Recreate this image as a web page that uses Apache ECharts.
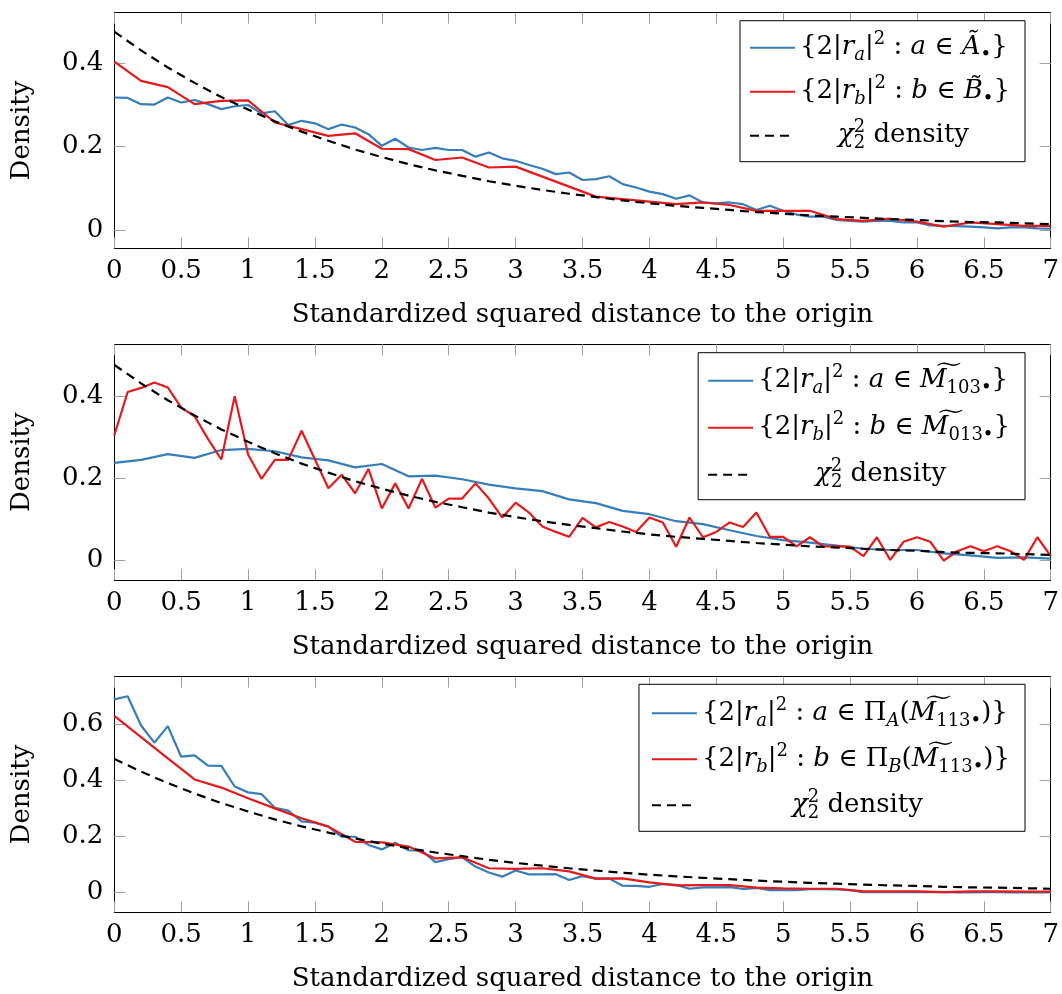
<!DOCTYPE html>
<html>
<head>
<meta charset="utf-8">
<script src="https://cdn.jsdelivr.net/npm/echarts@6/dist/echarts.min.js"></script>
<style>
html,body{margin:0;padding:0;background:#fff;}
#c{width:1062px;height:994px;}
</style>
</head>
<body>
<div id="c"></div>
<script>
// ---------- data ----------
const X_FINE = [0,0.1,0.2,0.3,0.4,0.5,0.6,0.7,0.8,0.9,1,1.1,1.2,1.3,1.4,1.5,1.6,1.7,1.8,1.9,2,2.1,2.2,2.3,2.4,2.5,2.6,2.7,2.8,2.9,3,3.1,3.2,3.3,3.4,3.5,3.6,3.7,3.8,3.9,4,4.1,4.2,4.3,4.4,4.5,4.6,4.7,4.8,4.9,5,5.1,5.2,5.3,5.4,5.5,5.6,5.7,5.8,5.9,6,6.1,6.2,6.3,6.4,6.5,6.6,6.7,6.8,6.9,7];
const X_COARSE = [0,0.2,0.4,0.6,0.8,1,1.2,1.4,1.6,1.8,2,2.2,2.4,2.6,2.8,3,3.2,3.4,3.6,3.8,4,4.2,4.4,4.6,4.8,5,5.2,5.4,5.6,5.8,6,6.2,6.4,6.6,6.8,7];

const X_TICK_STEP = 0.5;
const Y_TICKS_12 = [0, 0.2, 0.4];
const Y_TICKS_3 = [0, 0.2, 0.4, 0.6];

// chi-squared(2) density curve
const CHI2 = [0.476,0.431,0.390,0.353,0.319,0.289,0.261,0.236,0.214,0.193,0.175,0.158,0.143,0.130,0.117,0.106,0.096,0.087,0.079,0.071,0.064,0.058,0.053,0.048,0.043,0.039,0.035,0.032,0.029,0.026,0.024,0.021,0.019,0.018,0.016,0.014];

// panel 1
const P1_A = [0.318,0.317,0.302,0.301,0.318,0.306,0.312,0.302,0.290,0.297,
  0.300,0.280,0.285,0.252,0.262,0.256,0.242,0.253,0.246,0.230,
  0.202,0.219,0.198,0.192,0.197,0.192,0.192,0.176,0.186,0.172,
  0.166,0.156,0.147,0.134,0.138,0.120,0.122,0.129,0.110,0.102,
  0.092,0.086,0.075,0.083,0.066,0.064,0.066,0.062,0.048,0.058,
  0.046,0.037,0.032,0.032,0.024,0.022,0.020,0.022,0.022,0.018,
  0.018,0.011,0.010,0.009,0.008,0.006,0.004,0.006,0.006,0.004,0.003];
const P1_B = [0.404,0.358,0.343,0.302,0.310,0.311,0.258,0.242,0.226,0.232,
  0.195,0.194,0.168,0.174,0.150,0.152,0.128,0.104,0.080,0.074,
  0.068,0.062,0.066,0.060,0.046,0.046,0.046,0.026,0.022,0.027,
  0.020,0.008,0.018,0.014,0.010,0.010];

// panel 2
const P2_A = [0.238,0.245,0.259,0.250,0.269,0.272,0.266,0.251,0.244,0.227,
  0.235,0.205,0.207,0.198,0.185,0.176,0.169,0.149,0.140,0.121,
  0.113,0.096,0.089,0.074,0.060,0.050,0.044,0.037,0.029,0.026,
  0.026,0.018,0.013,0.007,0.008,0.005];
const P2_B = [0.305,0.410,0.420,0.433,0.421,0.372,0.351,0.296,0.246,0.400,
  0.258,0.199,0.245,0.245,0.316,0.246,0.176,0.209,0.164,0.223,
  0.127,0.188,0.127,0.199,0.129,0.151,0.151,0.188,0.151,0.105,
  0.141,0.117,0.083,0.070,0.058,0.104,0.081,0.094,0.083,0.070,
  0.105,0.093,0.034,0.105,0.057,0.070,0.093,0.082,0.117,0.058,
  0.058,0.035,0.057,0.035,0.035,0.034,0.011,0.057,0.002,0.046,
  0.057,0.046,0.000,0.023,0.035,0.023,0.035,0.023,0.002,0.057,0.011];

// panel 3
const P3_A = [0.688,0.699,0.595,0.534,0.593,0.484,0.489,0.452,0.451,0.378,
  0.357,0.351,0.302,0.292,0.254,0.249,0.235,0.199,0.199,0.170,
  0.154,0.178,0.151,0.149,0.109,0.119,0.126,0.093,0.072,0.057,
  0.079,0.065,0.065,0.066,0.045,0.059,0.050,0.050,0.025,0.024,
  0.021,0.031,0.028,0.014,0.019,0.019,0.020,0.013,0.017,0.009,
  0.009,0.009,0.013,0.013,0.012,0.009,0.002,0.002,0.002,0.002,
  0.003,0.002,0.002,0.001,0.001,0.002,0.002,0.001,0.001,0.001,0.001];
const P3_B = [0.629,0.554,0.478,0.403,0.374,0.336,0.300,0.265,0.235,0.181,
  0.179,0.164,0.122,0.126,0.087,0.085,0.087,0.076,0.050,0.051,
  0.037,0.026,0.027,0.027,0.018,0.015,0.014,0.014,0.005,0.005,
  0.005,0.002,0.005,0.005,0.004,0.004];

const X_NAME = 'Standardized squared distance to the origin';
const Y_NAME = 'Density';

// ---------- style ----------
const FONT = 'DejaVu Serif';
const BLUE = '#377eb8', RED = '#e41a1c';
const FS = 26;

const zip = (xs, ys) => ys.map((y, i) => [xs[i], y]);

const RICH = {
  n:   {fontFamily: FONT, fontSize: FS, lineHeight: 34, verticalAlign: 'middle', color: '#000'},
  i:   {fontFamily: FONT, fontSize: FS, fontStyle: 'italic', lineHeight: 34, verticalAlign: 'middle', color: '#000'},
  sb:  {fontFamily: FONT, fontSize: 18, fontStyle: 'italic', lineHeight: 18, verticalAlign: 'bottom', color: '#000'},
  sbn: {fontFamily: FONT, fontSize: 18, lineHeight: 18, verticalAlign: 'bottom', color: '#000'},
  sp:  {fontFamily: FONT, fontSize: 18, lineHeight: 18, verticalAlign: 'top', color: '#000'},
  spk: {fontFamily: FONT, fontSize: 18, lineHeight: 18, verticalAlign: 'top', color: '#000', padding: [0, 0, 0, -11.5]},
  c1:  {fontFamily: FONT, fontSize: FS, fontStyle: 'italic', lineHeight: 34, verticalAlign: 'middle', color: '#000', padding: [0, 0, 0, 38]},
  c2:  {fontFamily: FONT, fontSize: FS, fontStyle: 'italic', lineHeight: 34, verticalAlign: 'middle', color: '#000', padding: [0, 0, 0, 57]},
  c3:  {fontFamily: FONT, fontSize: FS, fontStyle: 'italic', lineHeight: 34, verticalAlign: 'middle', color: '#000', padding: [0, 0, 0, 90]}
};

const LEG = {
  A1: '{n|{2|}{i|r}{sb|a}{n||}{sp|2}{n| : }{i|a}{n| ∈ }{i|Ã}{sbn|•}{n|}}',
  B1: '{n|{2|}{i|r}{sb|b}{n||}{sp|2}{n| : }{i|b}{n| ∈ }{i|B\u0303}{sbn|•}{n|}}',
  C1: '{c1|χ}{sbn|2}{spk|2}{n| density}',
  A2: '{n|{2|}{i|r}{sb|a}{n||}{sp|2}{n| : }{i|a}{n| ∈ }{i|M\u0360}{sbn|103•}{n|}}',
  B2: '{n|{2|}{i|r}{sb|b}{n||}{sp|2}{n| : }{i|b}{n| ∈ }{i|M\u0360}{sbn|013•}{n|}}',
  C2: '{c2|χ}{sbn|2}{spk|2}{n| density}',
  A3: '{n|{2|}{i|r}{sb|a}{n||}{sp|2}{n| : }{i|a}{n| ∈ Π}{sb|A}{n|(}{i|M\u0360}{sbn|113•}{n|)}}',
  B3: '{n|{2|}{i|r}{sb|b}{n||}{sp|2}{n| : }{i|b}{n| ∈ Π}{sb|B}{n|(}{i|M\u0360}{sbn|113•}{n|)}}',
  C3: '{c3|χ}{sbn|2}{spk|2}{n| density}'
};

const PANELS = [
  {top: 12.7, height: 235.6, ymin: -0.044, ymax: 0.5215, yticks: Y_TICKS_12,
   a: zip(X_FINE, P1_A), b: zip(X_COARSE, P1_B), names: ['A1','B1','C1'],
   legTop: 20.7, legGap: 10, legPad: [10, 15, 9, 9]},
  {top: 344.3, height: 235.7, ymin: -0.0469, ymax: 0.526, yticks: Y_TICKS_12,
   a: zip(X_COARSE, P2_A), b: zip(X_FINE, P2_B), names: ['A2','B2','C2'],
   legTop: 352.7, legGap: 13, legPad: [11, 15, 8, 9]},
  {top: 676.7, height: 235.6, ymin: -0.0698, ymax: 0.7687, yticks: Y_TICKS_3,
   a: zip(X_FINE, P3_A), b: zip(X_COARSE, P3_B), names: ['A3','B3','C3'],
   legTop: 684.3, legGap: 12, legPad: [12, 15, 9, 12]}
];

const tickStyle = {inside: true, length: 11, lineStyle: {color: '#a0a0a0', width: 1}};
const lineAx = {show: true, onZero: false, lineStyle: {color: '#000', width: 1}};
const labelStyle = {fontFamily: FONT, fontSize: FS, color: '#000'};

const option = {
  animation: false,
  backgroundColor: '#fff',
  grid: [], xAxis: [], yAxis: [], series: [], legend: []
};

PANELS.forEach((p, k) => {
  option.grid.push({left: 114.3, right: 8.7, top: p.top, height: p.height, containLabel: false});
  option.xAxis.push({
    type: 'value', gridIndex: k, position: 'bottom', min: 0, max: 7, interval: X_TICK_STEP,
    axisLine: lineAx, axisTick: tickStyle, splitLine: {show: false},
    axisLabel: Object.assign({margin: 10, showMinLabel: true, showMaxLabel: true}, labelStyle),
    name: X_NAME, nameLocation: 'middle', nameGap: 54, nameTextStyle: labelStyle
  });
  option.xAxis.push({
    type: 'value', gridIndex: k, position: 'top', min: 0, max: 7, interval: X_TICK_STEP,
    axisLine: lineAx, axisTick: tickStyle, splitLine: {show: false}, axisLabel: {show: false}
  });
  option.yAxis.push({
    type: 'value', gridIndex: k, position: 'left', min: p.ymin, max: p.ymax,
    axisLine: lineAx, splitLine: {show: false},
    axisTick: Object.assign({customValues: p.yticks}, tickStyle),
    axisLabel: Object.assign({margin: 11, customValues: p.yticks}, labelStyle),
    name: Y_NAME, nameLocation: 'middle', nameGap: 79, nameTextStyle: labelStyle
  });
  option.yAxis.push({
    type: 'value', gridIndex: k, position: 'right', min: p.ymin, max: p.ymax,
    axisLine: lineAx, splitLine: {show: false},
    axisTick: Object.assign({customValues: p.yticks}, tickStyle),
    axisLabel: {show: false}
  });
  const xi = 2 * k, yi = 2 * k;
  option.series.push(
    {name: p.names[0], type: 'line', xAxisIndex: xi, yAxisIndex: yi, data: p.a, symbol: 'none',
     lineStyle: {color: BLUE, width: 2.2}, itemStyle: {color: BLUE}, z: 2},
    {name: p.names[1], type: 'line', xAxisIndex: xi, yAxisIndex: yi, data: p.b, symbol: 'none',
     lineStyle: {color: RED, width: 2.2}, itemStyle: {color: RED}, z: 3},
    {name: p.names[2], type: 'line', xAxisIndex: xi, yAxisIndex: yi, data: zip(X_COARSE, CHI2), symbol: 'none',
     lineStyle: {color: '#000', width: 2.2, type: [9, 6]}, itemStyle: {color: '#000'}, z: 4}
  );
  option.legend.push({
    data: p.names, orient: 'vertical', right: 37, top: p.legTop,
    itemWidth: 45, itemHeight: 14, itemGap: p.legGap, padding: p.legPad,
    borderColor: '#000', borderWidth: 1, backgroundColor: '#fff', borderRadius: 0,
    selectedMode: false,
    itemStyle: {opacity: 0},
    formatter: name => LEG[name],
    textStyle: {fontFamily: FONT, fontSize: FS, color: '#000', lineHeight: 34, rich: RICH}
  });
});

const chart = echarts.init(document.getElementById('c'), null, {renderer: 'canvas'});
chart.setOption(option);
</script>
</body>
</html>
